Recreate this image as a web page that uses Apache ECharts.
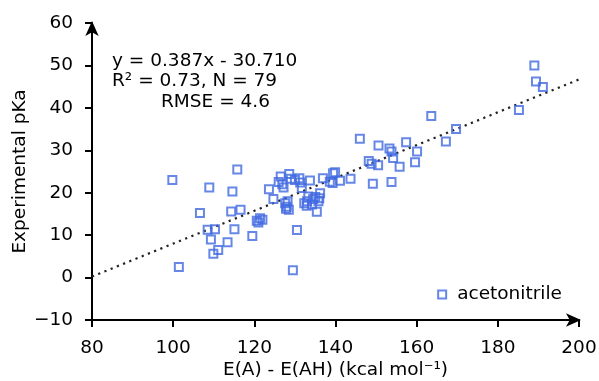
<!DOCTYPE html>
<html>
<head>
<meta charset="utf-8">
<script src="https://cdn.jsdelivr.net/npm/echarts@6/dist/echarts.min.js"></script>
<style>
  html, body { margin: 0; padding: 0; background: #fff; }
  #chart { width: 599px; height: 381px; }
</style>
</head>
<body>
<div id="chart"></div>
<script>
// values
const energyGap = [
  99.8, 101.4, 106.6, 108.9, 108.5, 110.3, 109.3, 109.9, 111.1, 113.4,
  114.6, 114.3, 115.1, 115.8, 116.6, 119.5, 120.6, 121.4, 121.0, 122.0,
  123.6, 124.7, 126.5, 126.9, 127.2, 127.6, 128.0, 127.8, 128.6, 129.0,
  128.2, 129.5, 130.5, 131.1, 131.3, 131.7, 132.9, 133.3, 133.0, 133.7,
  134.2, 135.4, 136.0, 136.2, 135.8, 136.9, 138.6, 139.4, 139.3, 139.9,
  141.1, 143.7, 146.0, 148.2, 148.9, 149.2, 150.5, 150.6, 153.3, 153.8,
  154.2, 153.8, 155.8, 157.4, 159.6, 160.1, 163.6, 167.2, 169.7, 185.2,
  189.0, 189.4, 191.1, 126.0, 130.0, 134.5, 132.3, 128.5, 135.0
];
const experimentalPka = [
  23.0, 2.5, 15.2, 21.2, 11.3, 11.4, 9.0, 5.6, 6.5, 8.3,
  20.3, 15.6, 11.4, 25.5, 16.0, 9.8, 13.4, 14.0, 13.0, 13.6,
  20.8, 18.5, 23.8, 22.0, 21.2, 17.5, 16.7, 16.2, 24.4, 23.3,
  18.0, 1.7, 11.2, 23.4, 22.4, 21.1, 16.9, 19.1, 18.0, 22.9,
  17.2, 15.5, 18.7, 19.9, 18.0, 23.4, 22.6, 24.6, 22.3, 24.8,
  22.8, 23.3, 32.7, 27.5, 26.8, 22.1, 26.5, 31.1, 30.4, 29.7,
  28.2, 22.5, 26.1, 31.9, 27.2, 29.7, 38.1, 32.1, 35.0, 39.5,
  50.0, 46.2, 44.9, 22.5, 23.0, 18.5, 17.5, 16.0, 19.0
];
const fitX = [80, 200];
const fitY = [0.25, 46.7];
const fitLines = ["y = 0.387x - 30.710", "R\u00b2 = 0.73, N = 79", "RMSE = 4.6"];
const seriesName = "acetonitrile";

const font = "DejaVu Sans";
const fs = 18.5;
const chart = echarts.init(document.getElementById("chart"), null, { renderer: "canvas" });

function minusLabel(v) {
  return v < 0 ? "\u2212" + Math.abs(v) : String(v);
}

chart.setOption({
  animation: false,
  backgroundColor: "#fff",
  textStyle: { fontFamily: font, color: "#000" },
  grid: { left: 92, right: 20, top: 23, bottom: 61, outerBoundsMode: "none" },
  legend: {
    data: [seriesName],
    right: 32,
    top: 280,
    itemWidth: 8,
    itemHeight: 8,
    textStyle: { fontFamily: font, fontSize: fs, color: "#000", padding: [0, 0, 0, 6] }
  },
  xAxis: {
    type: "value",
    min: 80,
    max: 200,
    interval: 20,
    name: "E(A) - E(AH) (kcal mol\u207b\u00b9)",
    nameLocation: "middle",
    nameGap: 41,
    nameMoveOverlap: false,
    nameTextStyle: { fontFamily: font, fontSize: fs, color: "#000" },
    axisLine: {
      onZero: false,
      symbol: ["none", "arrow"],
      symbolSize: [10, 15],
      symbolOffset: [0, 2],
      lineStyle: { color: "#000", width: 2 }
    },
    axisTick: { inside: false, length: 7, lineStyle: { color: "#000", width: 2 } },
    axisLabel: { fontSize: fs, color: "#000", margin: 19, formatter: minusLabel },
    splitLine: { show: false }
  },
  yAxis: {
    type: "value",
    min: -10,
    max: 60,
    interval: 10,
    name: "Experimental pKa",
    nameLocation: "middle",
    nameGap: 62,
    nameMoveOverlap: false,
    nameTextStyle: { fontFamily: font, fontSize: fs, color: "#000" },
    axisLine: {
      onZero: false,
      symbol: ["none", "arrow"],
      symbolSize: [10, 15],
      symbolOffset: [0, 2],
      lineStyle: { color: "#000", width: 2 }
    },
    axisTick: { inside: false, length: 7, lineStyle: { color: "#000", width: 2 } },
    axisLabel: { fontSize: fs, color: "#000", margin: 19, formatter: minusLabel },
    splitLine: { show: false }
  },
  graphic: fitLines.map((line, i) => ({
    type: "text",
    x: i === 2 ? 161 : 112,
    y: 61 + i * 20.5,
    silent: true,
    style: {
      text: line,
      fill: "#000",
      font: fs + "px " + font,
      verticalAlign: "middle"
    }
  })),
  series: [
    {
      name: "fit",
      type: "line",
      data: fitX.map((x, i) => [x, fitY[i]]),
      showSymbol: false,
      z: 1,
      lineStyle: { color: "#222", width: 2.2, type: [2.2, 4.5], cap: "butt" }
    },
    {
      name: seriesName,
      type: "scatter",
      symbol: "rect",
      symbolSize: 8,
      z: 2,
      data: energyGap.map((x, i) => [x, experimentalPka[i]]),
      itemStyle: { color: "rgba(0,0,0,0)", borderColor: "#4169e1", borderWidth: 2 }
    }
  ]
});
</script>
</body>
</html>
